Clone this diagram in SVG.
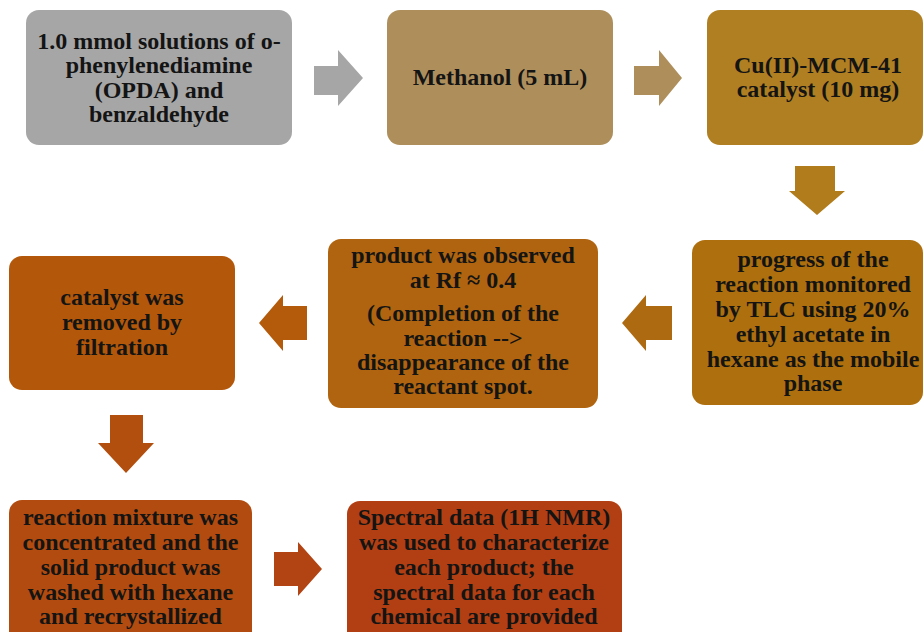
<svg xmlns="http://www.w3.org/2000/svg" width="924" height="632" viewBox="0 0 924 632">
<style>
.t{font-family:"Liberation Serif","Times New Roman",serif;font-weight:bold;font-size:24px;fill:#141414;text-anchor:middle}
</style>
<rect width="924" height="632" fill="#ffffff"/>
<g id="connectors">
<polygon points="314,66 338,66 338,50 363,78 338,106 338,95 314,95" fill="#a6a6a6"/>
<polygon points="634,66 659,66 659,50 682,78 659,106 659,95 634,95" fill="#ae8f5c"/>
<polygon points="795,166 835,166 835,191 845,191 817,215 789,191 795,191" fill="#b07c1c"/>
<polygon points="672,306 646,306 646,295 622,323 646,351 646,340 672,340" fill="#ae6a10"/>
<polygon points="307,306 283,306 283,295 259,323 283,351 283,340 307,340" fill="#b35a0b"/>
<polygon points="110,415 143,415 143,443 154,443 126,473 98,443 110,443" fill="#b24f0e"/>
<polygon points="274,552 298,552 298,542 322,569 298,596 298,586 274,586" fill="#b24312"/>
</g>
<g id="node1">
<rect x="26" y="10" width="266" height="135" rx="13" fill="#a6a6a6"/>
<text class="t" x="159" y="49">1.0 mmol solutions of o-</text>
<text class="t" x="159" y="73">phenylenediamine</text>
<text class="t" x="159" y="97.5">(OPDA) and</text>
<text class="t" x="159" y="122">benzaldehyde</text>
</g>
<g id="node2">
<rect x="387" y="10" width="226" height="135" rx="13" fill="#ae8f5c"/>
<text class="t" x="500" y="85">Methanol (5 mL)</text>
</g>
<g id="node3">
<rect x="707" y="10" width="216" height="135" rx="13" fill="#b07f22"/>
<text class="t" x="818" y="73">Cu(II)-MCM-41</text>
<text class="t" x="818" y="97">catalyst (10 mg)</text>
</g>
<g id="node4">
<rect x="692" y="240" width="231" height="165" rx="13" fill="#ae6f0e"/>
<text class="t" x="813" y="267">progress of the</text>
<text class="t" x="813" y="292">reaction monitored</text>
<text class="t" x="813" y="317">by TLC using 20%</text>
<text class="t" x="813" y="342">ethyl acetate in</text>
<text class="t" x="813" y="367">hexane as the mobile</text>
<text class="t" x="813" y="391">phase</text>
</g>
<g id="node5">
<rect x="328" y="239" width="270" height="169" rx="13" fill="#b0640f"/>
<text class="t" x="463" y="263">product was observed</text>
<text class="t" x="463" y="288">at Rf ≈ 0.4</text>
<text class="t" x="463" y="321">(Completion of the</text>
<text class="t" x="463" y="346">reaction --&gt;</text>
<text class="t" x="463" y="370">disappearance of the</text>
<text class="t" x="463" y="394">reactant spot.</text>
</g>
<g id="node6">
<rect x="9" y="256" width="226" height="134" rx="13" fill="#b3570b"/>
<text class="t" x="122" y="305">catalyst was</text>
<text class="t" x="122" y="330">removed by</text>
<text class="t" x="122" y="355">filtration</text>
</g>
<g id="node7">
<rect x="9" y="500" width="243" height="145" rx="13" fill="#b24b0f"/>
<text class="t" x="130.5" y="525">reaction mixture was</text>
<text class="t" x="130.5" y="550">concentrated and the</text>
<text class="t" x="130.5" y="575">solid product was</text>
<text class="t" x="130.5" y="600">washed with hexane</text>
<text class="t" x="130.5" y="624">and recrystallized</text>
</g>
<g id="node8">
<rect x="347" y="501" width="275" height="145" rx="13" fill="#b13f13"/>
<text class="t" x="484" y="525">Spectral data (1H NMR)</text>
<text class="t" x="484" y="550">was used to characterize</text>
<text class="t" x="484" y="575">each product; the</text>
<text class="t" x="484" y="600">spectral data for each</text>
<text class="t" x="484" y="624">chemical are provided</text>
</g>
</svg>
